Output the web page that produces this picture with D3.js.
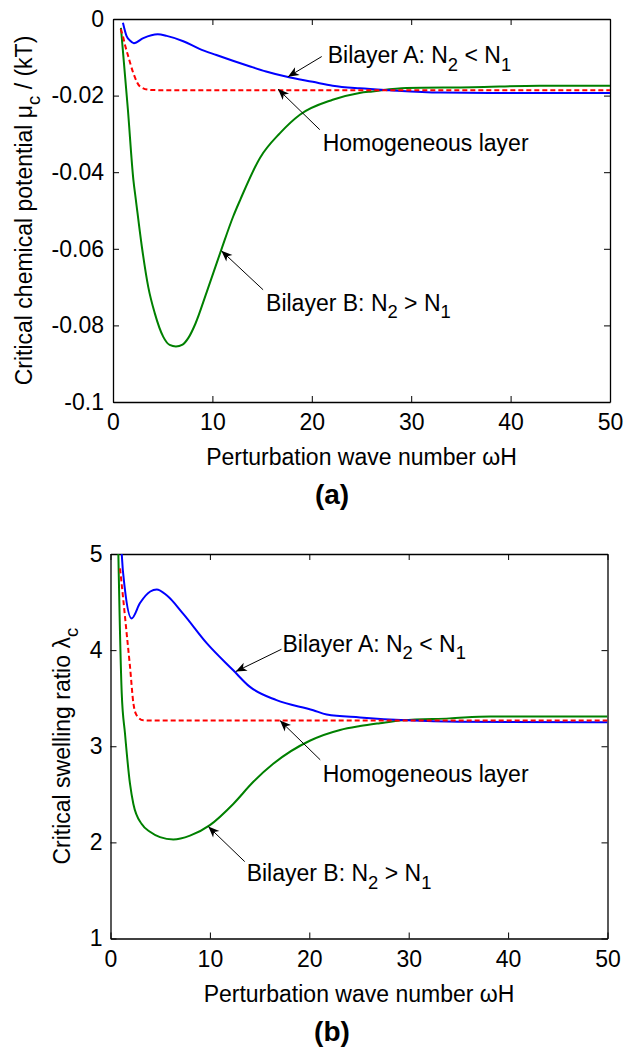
<!DOCTYPE html>
<html>
<head>
<meta charset="utf-8">
<script src="https://cdn.jsdelivr.net/npm/d3@7"></script>
<style>
    body { margin: 0; background: #ffffff; }
    svg { display: block; font-family: "Liberation Sans", Arial, Helvetica, sans-serif; }
</style>
</head>
<body>
<div id="chart"></div>
<script>
// Tick values shared by both panels
const omegaTicks = [0, 10, 20, 30, 40, 50];
const muTicks = [0, -0.02, -0.04, -0.06, -0.08, -0.1];
const muTickLabels = ["0", "-0.02", "-0.04", "-0.06", "-0.08", "-0.1"];
const lambdaTicks = [1, 2, 3, 4, 5];

// Panel (a): [ωH, μc / (kT)]
const muBilayerA = [
    [1.0, -0.0010], [1.37, -0.0045], [1.7, -0.0056], [2.1, -0.0063], [3.05, -0.0050],
    [4.5, -0.0040], [5.4, -0.0044], [7.07, -0.0058], [8.7, -0.0078], [10.4, -0.0094],
    [12.06, -0.0109], [13.8, -0.0124], [15.4, -0.0137], [17.5, -0.0151], [20.1, -0.0164],
    [22.1, -0.0174], [24.8, -0.0181], [27.8, -0.0186], [32.9, -0.0192], [40, -0.0193],
    [50, -0.0193]
];
const muHomogeneous = [
    [0.77, -0.0026], [1.0, -0.0045], [1.25, -0.0072], [1.54, -0.0098], [2.04, -0.0141],
    [2.71, -0.0176], [3.7, -0.0185], [5, -0.0186], [20, -0.0186], [50, -0.0186]
];
const muBilayerB = [
    [0.8, -0.0023], [1.5, -0.0237], [2.05, -0.0420], [2.3, -0.0472], [2.9, -0.0594],
    [3.55, -0.0700], [4.2, -0.0768], [5.06, -0.0830], [5.7, -0.0851], [6.33, -0.0855],
    [7.0, -0.0850], [7.6, -0.0832], [8.3, -0.0795], [9.4, -0.0715], [10.9, -0.0602],
    [12.1, -0.0515], [12.8, -0.0472], [14.8, -0.0362], [16.8, -0.0298], [18.8, -0.0250],
    [22.1, -0.0211], [24.8, -0.0193], [26.1, -0.0189], [29.5, -0.0180], [36.2, -0.0178],
    [42.9, -0.0174], [50, -0.0174]
];

// Panel (b): [ωH, λc]
const lambdaBilayerA = [
    [0.9, 5.6], [1.13, 5.0], [1.46, 4.625], [2.13, 4.33], [2.97, 4.49], [4.0, 4.61],
    [4.65, 4.63], [5.65, 4.57], [7.3, 4.38], [9.7, 4.07], [12.35, 3.79], [14.0, 3.62],
    [16.7, 3.48], [20.4, 3.375], [21.75, 3.33], [25.1, 3.30], [29.8, 3.27], [35, 3.255],
    [50, 3.25]
];
const lambdaHomogeneous = [
    [0.96, 4.85], [1.29, 4.52], [1.63, 4.17], [1.96, 3.83], [2.3, 3.45], [2.64, 3.32],
    [3.3, 3.27], [5, 3.267], [50, 3.267]
];
const lambdaBilayerB = [
    [0.7, 5.5], [0.79, 5.0], [1.13, 3.55], [1.46, 3.13], [1.96, 2.61], [2.3, 2.40],
    [3.14, 2.19], [3.97, 2.11], [4.98, 2.055], [6.32, 2.03], [8.0, 2.07], [10.0, 2.18],
    [12.35, 2.40], [14.37, 2.63], [16.4, 2.82], [20.1, 3.06], [23.1, 3.17], [25.1, 3.21],
    [27.1, 3.24], [29.4, 3.27], [34.1, 3.29], [38.2, 3.31], [50, 3.31]
];

// Annotation labels: pieces are [text, isSubscript]
const labelA = [["Bilayer A: N", 0], ["2", 1], [" < N", 0], ["1", 1]];
const labelB = [["Bilayer B: N", 0], ["2", 1], [" > N", 0], ["1", 1]];
const labelHom = [["Homogeneous layer", 0]];

const width = 634, height = 1048;
const FONT = 23;

const svg = d3.select("#chart")
    .append("svg")
    .attr("width", width)
    .attr("height", height);

// Arrowhead like MATLAB's annotation arrows
svg.append("defs")
    .append("marker")
    .attr("id", "head")
    .attr("viewBox", "-12 -6 14 12")
    .attr("markerWidth", 14)
    .attr("markerHeight", 12)
    .attr("markerUnits", "userSpaceOnUse")
    .attr("refX", 0)
    .attr("refY", 0)
    .attr("orient", "auto")
    .append("path")
    .attr("d", "M0,0 L-11,-4.5 L-8,0 L-11,4.5 Z")
    .attr("fill", "#000");

function addPieces(textSel, pieces, size) {
    let sub = false;
    pieces.forEach(([str, isSub]) => {
        const dy = isSub && !sub ? 0.33 * size : (!isSub && sub ? -0.33 * size : 0);
        textSel.append("tspan")
            .attr("dy", dy)
            .style("font-size", isSub ? `${size * 0.8}px` : `${size}px`)
            .text(str);
        sub = !!isSub;
    });
}

function drawPanel(opt) {
    const { left, top, w, h } = opt;
    const x = d3.scaleLinear().domain([0, 50]).range([left, left + w]);
    const y = d3.scaleLinear().domain(opt.yDomain).range([top + h, top]);

    const g = svg.append("g");

    g.append("clipPath")
        .attr("id", opt.id)
        .append("rect")
        .attr("x", left)
        .attr("y", top)
        .attr("width", w)
        .attr("height", h);

    // Axes: ticks point inward, box all round
    g.append("g")
        .attr("transform", `translate(0,${top + h})`)
        .call(d3.axisBottom(x).tickValues(omegaTicks).tickSizeInner(-6).tickSizeOuter(0).tickPadding(12));
    g.append("g")
        .attr("transform", `translate(0,${top})`)
        .call(d3.axisTop(x).tickValues(omegaTicks).tickSizeInner(-6).tickSizeOuter(0).tickFormat(""));
    g.append("g")
        .attr("transform", `translate(${left},0)`)
        .call(d3.axisLeft(y).tickValues(opt.yTicks).tickSizeInner(-6).tickSizeOuter(0).tickPadding(opt.yPad)
            .tickFormat((d, i) => opt.yLabels[i]));
    g.append("g")
        .attr("transform", `translate(${left + w},0)`)
        .call(d3.axisRight(y).tickValues(opt.yTicks).tickSizeInner(-6).tickSizeOuter(0).tickFormat(""));

    g.selectAll(".domain").attr("stroke", "#000").attr("stroke-width", 1.3);
    g.selectAll(".tick line").attr("stroke", "#000").attr("stroke-width", 1);
    g.selectAll(".tick text")
        .style("font-size", `${FONT}px`)
        .style("font-family", "'Liberation Sans', Arial, sans-serif")
        .attr("fill", "#000");

    // Curves
    const line = d3.line()
        .x(d => x(d[0]))
        .y(d => y(d[1]))
        .curve(d3.curveMonotoneX);

    const plot = g.append("g").attr("clip-path", `url(#${opt.id})`);
    plot.append("path")
        .datum(opt.green)
        .attr("fill", "none")
        .attr("stroke", "#008000")
        .attr("stroke-width", 2)
        .attr("d", line);
    plot.append("path")
        .datum(opt.blue)
        .attr("fill", "none")
        .attr("stroke", "#0000ff")
        .attr("stroke-width", 2)
        .attr("d", line);
    plot.append("path")
        .datum(opt.red)
        .attr("fill", "none")
        .attr("stroke", "#ff0000")
        .attr("stroke-width", 2)
        .attr("stroke-dasharray", "5,3")
        .attr("d", line);

    // Annotations
    opt.notes.forEach(n => {
        g.append("line")
            .attr("x1", x(n.tail[0]))
            .attr("y1", y(n.tail[1]))
            .attr("x2", x(n.head[0]))
            .attr("y2", y(n.head[1]))
            .attr("stroke", "#000")
            .attr("stroke-width", 1)
            .attr("marker-end", "url(#head)");
        const t = g.append("text")
            .attr("x", x(n.at[0]))
            .attr("y", y(n.at[1]))
            .attr("fill", "#000");
        addPieces(t, n.label, FONT);
    });

    // Axis titles
    g.append("text")
        .attr("x", left + w / 2)
        .attr("y", top + h + 63)
        .attr("text-anchor", "middle")
        .style("font-size", `${FONT}px`)
        .text("Perturbation wave number ωH");

    const yt = g.append("text")
        .attr("transform", `translate(${opt.yTitleX},${top + h / 2}) rotate(-90)`)
        .attr("text-anchor", "middle")
        .attr("fill", "#000");
    addPieces(yt, opt.yTitle, FONT);

    g.append("text")
        .attr("x", 332)
        .attr("y", top + h + 102)
        .attr("text-anchor", "middle")
        .style("font-size", "28px")
        .style("font-weight", "bold")
        .text(opt.tag);
}

drawPanel({
    id: "clipA",
    left: 113, top: 19, w: 497, h: 383,
    yDomain: [-0.1, 0],
    yTicks: muTicks,
    yLabels: muTickLabels,
    yPad: 9,
    yTitleX: 32,
    yTitle: [["Critical chemical potential μ", 0], ["c", 1], [" / (kT)", 0]],
    tag: "(a)",
    blue: muBilayerA,
    red: muHomogeneous,
    green: muBilayerB,
    notes: [
        { label: labelA, at: [21.6, -0.0115], tail: [21.0, -0.0098], head: [17.6, -0.0151] },
        { label: labelHom, at: [21.1, -0.0344], tail: [20.8, -0.0289], head: [16.6, -0.0183] },
        { label: labelB, at: [15.4, -0.0762], tail: [15.1, -0.0707], head: [10.9, -0.0605] }
    ]
});

drawPanel({
    id: "clipB",
    left: 110.5, top: 554, w: 497, h: 384.5,
    yDomain: [1, 5],
    yTicks: lambdaTicks,
    yLabels: lambdaTicks.map(String),
    yPad: 8,
    yTitleX: 70,
    yTitle: [["Critical swelling ratio λ", 0], ["c", 1]],
    tag: "(b)",
    blue: lambdaBilayerA,
    red: lambdaHomogeneous,
    green: lambdaBilayerB,
    notes: [
        { label: labelA, at: [17.3, 3.984], tail: [17.2, 4.009], head: [12.6, 3.777] },
        { label: labelHom, at: [21.35, 2.633], tail: [21.1, 2.859], head: [17.05, 3.267] },
        { label: labelB, at: [13.7, 1.594], tail: [13.5, 1.80], head: [9.84, 2.165] }
    ]
});
</script>
</body>
</html>
